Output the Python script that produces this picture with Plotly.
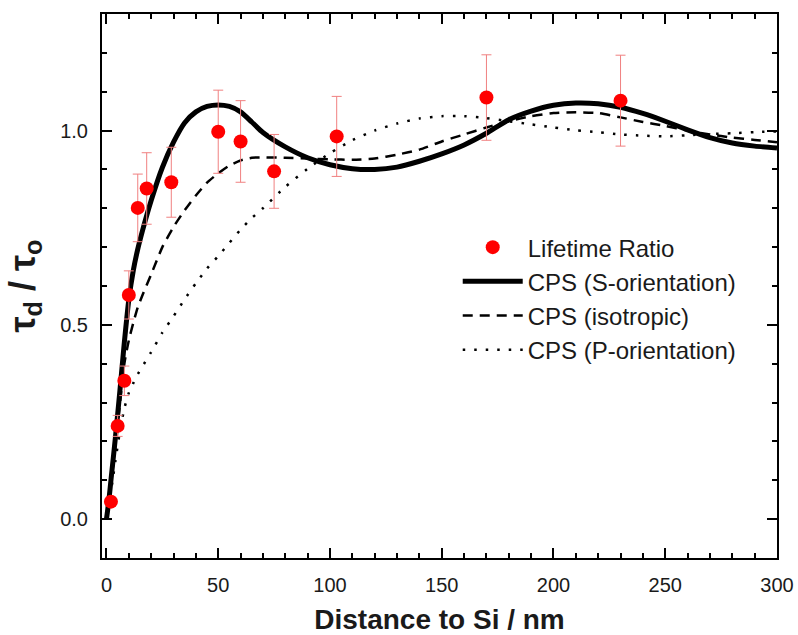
import plotly.graph_objects as go

# Measured lifetime ratio
dist = [2, 5, 8, 10, 14, 18, 29, 50, 60, 75, 103, 170, 230]
ratio = [0.045, 0.24, 0.356, 0.577, 0.801, 0.851, 0.867, 0.997, 0.972, 0.895, 0.985, 1.085, 1.077]
ratio_err = [0.006, 0.027, 0.038, 0.062, 0.087, 0.092, 0.09, 0.107, 0.105, 0.095, 0.103, 0.11, 0.117]

# CPS model curves
cps_x = [0, 1, 2, 3, 4, 6, 8, 10, 12, 14, 16, 20, 25, 30, 35, 40, 45, 50, 55, 60, 65, 70,
         80, 90, 100, 110, 120, 130, 140, 150, 160, 170, 180, 190, 200, 210, 220, 230, 240,
         250, 260, 270, 280, 290, 300]
cps_s = [0, 0.045, 0.10, 0.155, 0.21, 0.33, 0.455, 0.565, 0.64, 0.695, 0.74, 0.82, 0.905, 0.97,
         1.02, 1.048, 1.062, 1.066, 1.062, 1.048, 1.022, 0.995, 0.958, 0.93, 0.912, 0.902, 0.9,
         0.906, 0.921, 0.94, 0.963, 0.993, 1.028, 1.05, 1.065, 1.071, 1.069, 1.06, 1.044, 1.024,
         1.002, 0.982, 0.968, 0.96, 0.955]
cps_iso = [0, 0.04, 0.09, 0.14, 0.19, 0.295, 0.40, 0.46, 0.505, 0.545, 0.575, 0.63, 0.70, 0.752,
           0.795, 0.833, 0.866, 0.89, 0.91, 0.923, 0.93, 0.931, 0.93, 0.928, 0.926, 0.925, 0.928,
           0.938, 0.951, 0.972, 0.99, 1.008, 1.024, 1.037, 1.045, 1.047, 1.045, 1.034, 1.022,
           1.012, 1.0, 0.99, 0.982, 0.976, 0.97]
cps_p = [0, 0.03, 0.07, 0.11, 0.15, 0.225, 0.285, 0.325, 0.35, 0.373, 0.392, 0.43, 0.48, 0.522,
         0.566, 0.607, 0.645, 0.677, 0.711, 0.745, 0.775, 0.80, 0.855, 0.902, 0.942, 0.975, 1.0,
         1.018, 1.031, 1.037, 1.037, 1.032, 1.024, 1.016, 1.008, 1.001, 0.996, 0.99, 0.987,
         0.985, 0.988, 0.991, 0.993, 0.996, 0.998]

FONT = "Liberation Sans, Arial, sans-serif"

fig = go.Figure()
fig.add_trace(go.Scatter(x=cps_x, y=cps_s, mode="lines", name="CPS (S-orientation)",
                         line=dict(color="black", width=5, shape="spline", smoothing=0.6),
                         legendrank=2))
fig.add_trace(go.Scatter(x=cps_x, y=cps_iso, mode="lines", name="CPS (isotropic)",
                         line=dict(color="black", width=2.5, dash="10px,7px", shape="spline", smoothing=0.6),
                         legendrank=3))
fig.add_trace(go.Scatter(x=cps_x, y=cps_p, mode="lines", name="CPS (P-orientation)",
                         line=dict(color="black", width=2.5, dash="2.5px,9px", shape="spline", smoothing=0.6),
                         legendrank=4))
fig.add_trace(go.Scatter(x=dist, y=ratio, mode="markers", name="Lifetime Ratio",
                         marker=dict(color="#ff0000", size=14),
                         error_y=dict(type="data", array=ratio_err, visible=True,
                                      color="#f08080", thickness=1, width=5),
                         legendrank=1))

axis_common = dict(
    showline=True, linecolor="black", linewidth=2, mirror="allticks",
    ticks="inside", ticklen=10, tickwidth=2, tickcolor="black",
    showgrid=False, zeroline=False, automargin=False,
    tickfont=dict(family=FONT, size=20, color="#1a1a1a"),
)

fig.update_xaxes(range=[-2, 300], dtick=50, tick0=0,
                 minor=dict(dtick=10, ticks="inside", ticklen=5, tickwidth=2, tickcolor="black"),
                 ticklabelstandoff=8,
                 title=dict(text="<b>Distance to Si / nm</b>", font=dict(family=FONT, size=28, color="#1a1a1a"),
                            standoff=22),
                 **axis_common)
fig.update_yaxes(range=[-0.1, 1.3], dtick=0.5, tick0=0, tickformat=".1f",
                 minor=dict(dtick=0.1, ticks="inside", ticklen=5, tickwidth=2, tickcolor="black"),
                 ticklabelstandoff=8,
                 title=dict(text="<b>τ<sub>d</sub> / τ<sub>o</sub></b>", font=dict(family=FONT, size=36, color="#1a1a1a"),
                            standoff=14),
                 **axis_common)

fig.update_layout(
    width=798, height=635,
    margin=dict(l=102, r=21, t=14, b=77, autoexpand=False),
    paper_bgcolor="white", plot_bgcolor="white",
    showlegend=True,
    legend=dict(x=0.527, y=0.612, xanchor="left", yanchor="top",
                bgcolor="rgba(0,0,0,0)", borderwidth=0,
                font=dict(family=FONT, size=24, color="#1a1a1a"),
                itemwidth=60, tracegroupgap=0),
)

fig.write_html("out.html")
